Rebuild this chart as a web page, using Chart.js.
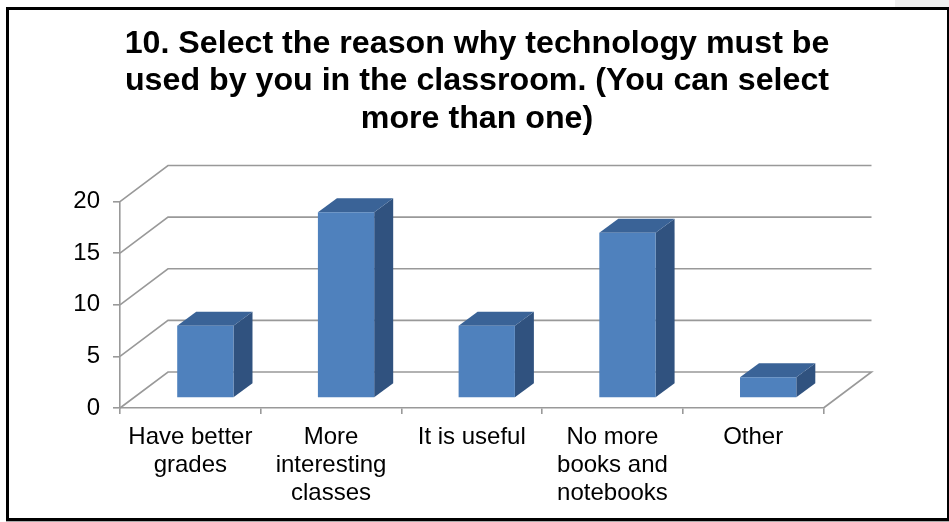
<!DOCTYPE html>
<html>
<head>
<meta charset="utf-8">
<script src="https://cdn.jsdelivr.net/npm/chart.js@4"></script>
<style>
  html, body { margin: 0; padding: 0; background: #fff; overflow: hidden; }
  #wrap { position: relative; width: 949px; height: 522px; }
  #corner { position: absolute; left: 895px; top: 0; width: 54px; height: 7px; background: #f0f0f0; }
  #frame { position: absolute; left: 6px; top: 7px; width: 938px; height: 508px; border: 3px solid #000; box-shadow: 0 1px 0 #aaa; pointer-events: none; }
</style>
</head>
<body>
<div id="wrap">
  <div id="corner"></div>
  <canvas id="myChart" width="949" height="522"></canvas>
  <div id="frame"></div>
</div>
<script>
const titleLines = [
  "10. Select the reason why technology must be",
  "used by you in the classroom. (You can select",
  "more than one)",
];
const categories = [
  ["Have better", "grades"],
  ["More", "interesting", "classes"],
  "It is useful",
  ["No more", "books and", "notebooks"],
  "Other",
];
const values = [7, 18, 7, 16, 2];
const yTicks = [0, 5, 10, 15, 20];

const GRID = "#999999";
const WALL_DX = 48;
const WALL_DY = -36;
const BAR_SHIFT_X = 15;
const BAR_SHIFT_Y = -10;
const BAR_DX = 19;
const BAR_DY = -14;

// fake 3d: back wall lines and the side/top faces of the bars
const fake3d = {
  id: "fake3d",
  beforeDatasetDraw(chart) {
    const ctx = chart.ctx;
    const area = chart.chartArea;
    const yScale = chart.scales.y;

    ctx.save();
    ctx.strokeStyle = GRID;
    ctx.lineWidth = 1.6;
    yTicks.forEach(function (t) {
      const y = yScale.getPixelForValue(t);
      ctx.beginPath();
      ctx.moveTo(area.left, y);
      ctx.lineTo(area.left + WALL_DX, y + WALL_DY);
      ctx.lineTo(area.right + WALL_DX, y + WALL_DY);
      if (t === 0) ctx.lineTo(area.right, y);
      ctx.stroke();
    });

    ctx.translate(BAR_SHIFT_X, BAR_SHIFT_Y);
    chart.getDatasetMeta(0).data.forEach(function (bar) {
      const l = bar.x - bar.width / 2;
      const r = bar.x + bar.width / 2;
      ctx.fillStyle = "#30527f";
      ctx.beginPath();
      ctx.moveTo(r, bar.base);
      ctx.lineTo(r + BAR_DX, bar.base + BAR_DY);
      ctx.lineTo(r + BAR_DX, bar.y + BAR_DY);
      ctx.lineTo(r, bar.y);
      ctx.closePath();
      ctx.fill();
      ctx.fillStyle = "#3a6397";
      ctx.beginPath();
      ctx.moveTo(l, bar.y);
      ctx.lineTo(l + BAR_DX, bar.y + BAR_DY);
      ctx.lineTo(r + BAR_DX, bar.y + BAR_DY);
      ctx.lineTo(r, bar.y);
      ctx.closePath();
      ctx.fill();
    });
    ctx.restore();

    ctx.save();
    ctx.translate(BAR_SHIFT_X, BAR_SHIFT_Y);
  },
  afterDatasetDraw(chart) {
    chart.ctx.restore();
  },
};

new Chart(document.getElementById("myChart"), {
  type: "bar",
  data: {
    labels: categories,
    datasets: [
      {
        data: values,
        backgroundColor: "#4f81bd",
        borderWidth: 0,
        categoryPercentage: 1,
        barPercentage: 0.4,
      },
    ],
  },
  options: {
    responsive: false,
    animation: false,
    layout: { padding: { left: 5, right: 0, top: 0, bottom: 0 } },
    plugins: {
      legend: { display: false },
      tooltip: { enabled: false },
      title: {
        display: true,
        text: titleLines,
        color: "#000",
        font: { family: "Liberation Sans", size: 32.2, weight: "bold", lineHeight: 1.165 },
        padding: { top: 25, bottom: 64 },
      },
    },
    scales: {
      x: {
        grid: { drawOnChartArea: false, color: GRID, tickLength: 6, lineWidth: 1.6 },
        border: { color: GRID, width: 1.6 },
        ticks: {
          color: "#000",
          font: { family: "Liberation Sans", size: 24, lineHeight: 1.17 },
          maxRotation: 0,
          autoSkip: false,
          padding: 9,
        },
        afterFit(scale) {
          scale.height = 114;
        },
      },
      y: {
        min: 0,
        max: 20,
        grid: { drawOnChartArea: false, color: GRID, tickLength: 7, lineWidth: 1.6 },
        border: { color: GRID, width: 1.6 },
        ticks: {
          color: "#000",
          stepSize: 5,
          font: { family: "Liberation Sans", size: 24 },
          padding: 13,
        },
        afterFit(scale) {
          scale.width = 115;
        },
      },
      // empty axis, only keeps the room right of the floor
      spacer: {
        axis: "y",
        position: "right",
        grid: { display: false },
        border: { display: false },
        ticks: { display: false },
        afterFit(scale) {
          scale.width = 125.5;
        },
      },
    },
  },
  plugins: [fake3d],
});
</script>
</body>
</html>
